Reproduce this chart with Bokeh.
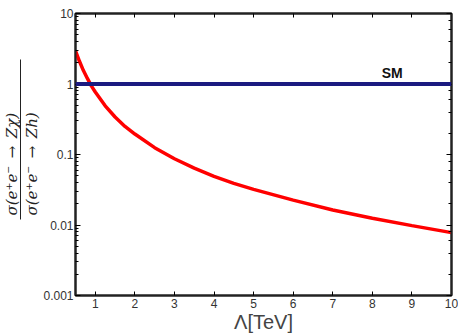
from bokeh.plotting import figure
from bokeh.models import (Range1d, LinearAxis, LogAxis, Span, Label, Title, LinearScale,
                          NumeralTickFormatter, FixedTicker, CustomJSTickFormatter)
from bokeh.embed import file_html
from bokeh.resources import INLINE

# Cross-section ratio sigma(ee->Z chi)/sigma(ee->Zh) versus the scale Lambda
lambda_tev = [0.5, 0.6, 0.7, 0.8, 0.9, 1.0, 1.25, 1.5, 1.75, 2.0, 2.5, 3.0, 3.5,
              4.0, 4.5, 5.0, 6.0, 7.0, 8.0, 9.0, 10.0]
ratio = [2.95, 2.1, 1.55, 1.2, 0.94, 0.77, 0.49, 0.34, 0.25, 0.195, 0.125, 0.087,
         0.064, 0.049, 0.039, 0.032, 0.0225, 0.0163, 0.0125, 0.0098, 0.0078]

# Standard-model reference level
sm_ratio = 1.0
sm_label = "SM"
sm_label_x = 8.5

x_ticks = [1, 2, 3, 4, 5, 6, 7, 8, 9, 10]

p = figure(width=458, height=335, y_axis_type="log",
           x_range=Range1d(0.5, 10), y_range=Range1d(0.001, 10),
           output_backend="svg", toolbar_location=None,
           min_border_left=71, min_border_right=7, min_border_top=13,
           min_border_bottom=40)
p.grid.visible = False
p.outline_line_color = "#222222"
p.outline_line_width = 2
p.background_fill_color = "white"

tick_font = "Liberation Sans"
ink = "#222222"

xa = p.xaxis[0]
xa.ticker = FixedTicker(ticks=x_ticks)
xa.axis_label = "Λ[TeV]"
xa.axis_label_text_font = tick_font
xa.axis_label_text_font_style = "normal"
xa.axis_label_text_font_size = "20px"
xa.axis_label_standoff = 0
xa.major_label_text_font = tick_font
xa.major_label_text_font_size = "12px"
xa.major_label_text_color = "#333333"
xa.major_label_standoff = 3
xa.major_tick_in = 4
xa.major_tick_out = 0
xa.minor_tick_line_color = None
xa.axis_line_width = 2
xa.axis_line_color = ink

ya = p.yaxis[0]
ya.formatter = NumeralTickFormatter(format="0.[000]")
ya.major_label_text_font = tick_font
ya.major_label_text_font_size = "12px"
ya.major_label_text_color = "#333333"
ya.major_label_standoff = 2
ya.major_tick_in = 5
ya.major_tick_out = 0
ya.minor_tick_in = 3
ya.minor_tick_out = 0
ya.axis_line_width = 2
ya.axis_line_color = ink

# Mirror ticks on the top and right edges, without labels
blank = CustomJSTickFormatter(code="return ''")
top = LinearAxis(ticker=FixedTicker(ticks=x_ticks), formatter=blank,
                 major_tick_in=4, major_tick_out=0, minor_tick_line_color=None,
                 axis_line_width=2, axis_line_color=ink, major_label_standoff=0)
p.add_layout(top, "above")
right = LogAxis(formatter=blank, major_tick_in=5, major_tick_out=0,
                minor_tick_in=3, minor_tick_out=0, axis_line_width=2,
                axis_line_color=ink, major_label_standoff=0)
p.add_layout(right, "right")

p.add_layout(Span(location=sm_ratio, dimension="width", line_color="#1b1a80",
                  line_width=4))
p.line(lambda_tev, ratio, line_color="red", line_width=3.5)

p.add_layout(Label(x=sm_label_x, y=sm_ratio, text=sm_label, text_font=tick_font,
                   text_font_style="bold", text_font_size="14px", text_color="#111111",
                   text_align="center", text_baseline="bottom", y_offset=3))

# Fractional y-axis title: denominator, fraction bar, numerator (inner to outer)
frac_font = "DejaVu Serif"
frac_size = "15px"
frac_lift = 80
p.add_layout(Title(text="σ(e⁺e⁻\u2002→\u2002Zh)", align="left", offset=frac_lift,
                   text_font=frac_font, text_font_style="italic",
                   text_font_size=frac_size, text_color=ink, standoff=0), "left")
p.extra_y_ranges = {"frac_px": Range1d(0, 282)}
p.extra_y_scales = {"frac_px": LinearScale()}
bar = LinearAxis(y_range_name="frac_px", bounds=(76, 236),
                 ticker=FixedTicker(ticks=[]), formatter=blank, axis_label_standoff=0,
                 major_tick_in=0, major_tick_out=0, minor_tick_in=0, minor_tick_out=0,
                 major_label_standoff=0, axis_line_width=1, axis_line_color=ink)
p.add_layout(bar, "left")
p.add_layout(Title(text="σ(e⁺e⁻\u2002→\u2002Zχ)", align="left", offset=frac_lift,
                   text_font=frac_font, text_font_style="italic",
                   text_font_size=frac_size, text_color=ink, standoff=0), "left")

open("out.html", "w").write(file_html(p, INLINE))
